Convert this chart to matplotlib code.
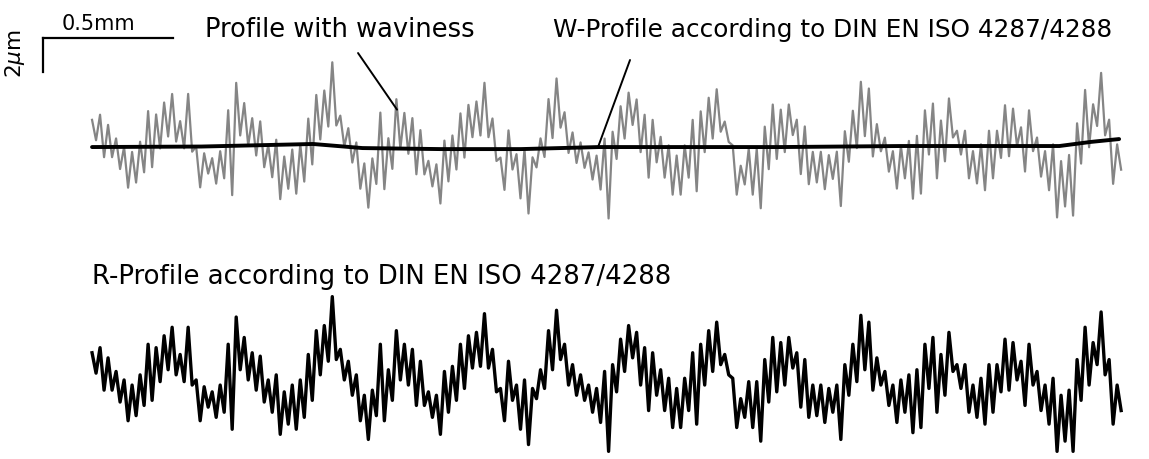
import numpy as np
import matplotlib
matplotlib.use('Agg')
import matplotlib.pyplot as plt

plt.rcParams['font.family'] = ['DejaVu Sans']

# Rauheit (R-Profil), in µm: Spitzen und Taeler abwechselnd, Abstand 0.0154 mm
peaks_um = [1.6, 1.9, 1.3, 0.5, 0.0, -0.3, 0.3, 2.1, 1.9, 2.6, 3.1, 1.5, 3.1, 0.0, -0.4, -0.7, -0.3, 2.1, 3.7, 2.5, 1.6, 1.4, 0.0, 0.3, -0.7,
            -0.3, 0.0, 1.5, 2.9, 3.2, 4.9, 1.8, 1.1, 0.3, -0.9, -0.6, 2.1, 0.6, 2.9, 2.1, 1.8, 1.1, -0.7, -0.9, 0.5, 0.8, 2.1, 2.6, 2.8, 3.9, 1.8,
            -0.5, 1.1, -0.3, 0.0, -0.5, 0.6, 2.9, 4.1, 2.1, 0.9, 0.3, -0.3, -0.5, 0.5, 0.9, 2.4, 3.2, 2.8, 1.9, 1.6, 0.6, 0.1, -0.5, 0.1, 1.6, 2.1,
            2.9, 3.4, 1.5, 0.1, -1.1, -0.1, -0.1, 1.2, 2.5, 2.2, 2.5, 1.6, 1.2, -0.3, -0.3, -0.5, -0.3, 0.9, 2.1, 3.8, 3.4, 1.3, 0.5, -0.3, 0.0, 0.3,
            0.6, 2.1, 2.5, 1.5, 2.8, 0.9, 0.9, -0.3, 0.1, 0.9, 0.9, 2.4, 2.2, 1.1, 2.1, 0.5, -0.3, 0.1, -0.9, -0.6, 1.2, 3.1, 2.2, 4.0, 1.2, -0.3]
valleys_um = [0.4, -0.6, -0.6, -1.3, -2.4, -2.1, -1.5, -1.2, -0.1, 0.6, 0.3, -0.1, -0.3, -2.4, -1.6, -2.2, -1.9, -2.9, 0.6, 0.0, -0.6, -1.3, -1.9, -3.2, -2.6,
              -2.9, -2.2, -1.2, 0.3, 1.1, 1.2, 0.0, -0.9, -2.4, -3.5, -2.1, -2.4, -1.2, 0.0, -0.3, -1.5, -1.5, -2.2, -3.2, -1.9, -1.2, -0.5, 0.7, 0.8, 0.7, -0.7,
              -2.4, -1.2, -2.9, -3.8, -1.1, -0.5, 0.6, 1.2, -0.3, -0.9, -1.2, -1.9, -2.5, -4.2, -0.7, 0.5, 1.3, -0.3, -1.8, -0.9, -1.8, -2.8, -2.8, -1.8, -2.6, -0.3,
              0.5, 0.9, 0.3, -2.8, -2.2, -2.8, -3.6, -1.3, -0.7, -0.3, 0.7, -1.6, -2.2, -2.1, -2.5, -1.9, -3.5, -0.9, -0.1, 0.6, -0.6, -0.3, -1.5, -2.5, -1.9, -3.1,
              -2.8, -0.5, -1.9, -0.9, 0.5, -0.5, -1.9, -2.2, -2.6, -1.9, -0.7, -0.6, 0.0, -1.5, -0.3, -1.8, -2.6, -4.2, -3.6, -4.2, -1.2, -0.3, 0.9, 0.3, -2.6, -1.8]
step_mm = 0.0154

# Welligkeit (W-Profil)
wave_x_mm = [0.0, 0.42, 0.85, 1.04, 1.34, 1.65, 1.95, 2.65, 3.11, 3.72, 3.84, 3.95]
wave_um = [0.0, 0.03, 0.18, -0.06, -0.12, -0.12, 0.0, 0.0, 0.06, 0.06, 0.3, 0.47]

scale_x_mm = 0.5
scale_y_um = 2

# Abstand zwischen oberem und unterem Profil
r_offset = -13.7

rough = np.empty(2 * len(peaks_um))
rough[0::2] = peaks_um
rough[1::2] = valleys_um
x = np.arange(len(rough)) * step_mm
waviness = np.interp(x, wave_x_mm, wave_um)
profile = rough + waviness

fig = plt.figure(figsize=(11.49, 4.59), dpi=100)
ax = fig.add_axes([0, 0, 1, 1])
ax.set_xlim(-0.354, 4.065)
ax.set_ylim(-18.35, 8.65)
ax.axis('off')

ax.plot(x, profile, color='#858585', lw=1.6)
ax.plot(wave_x_mm, wave_um, color='black', lw=2.8, solid_capstyle='round')
ax.plot(x, rough + r_offset, color='black', lw=2.4)

# Massstab
x0, y0 = -0.188, 6.41
ax.plot([x0, x0 + scale_x_mm], [y0, y0], color='black', lw=1.6)
ax.plot([x0, x0], [y0, y0 - scale_y_um], color='black', lw=1.6)
ax.text(x0 + 0.07, y0 + 0.5, '0.5mm', fontsize=15, ha='left', va='baseline')
ax.text(-0.295, y0 - 0.9, r'2$\mu$m', fontsize=15.5, rotation=90, ha='center', va='center')

# Beschriftungen
ax.text(0.435, 6.5, 'Profile with waviness', fontsize=18.5, ha='left', va='baseline')
ax.text(1.773, 6.5, 'W-Profile according to DIN EN ISO 4287/4288', fontsize=17.8, ha='left', va='baseline')
ax.text(0.0, -8.06, 'R-Profile according to DIN EN ISO 4287/4288', fontsize=18.7, ha='left', va='baseline')

ax.annotate('', xy=(1.173, 2.2), xytext=(1.023, 5.53),
            arrowprops=dict(arrowstyle='-', color='black', lw=1.4, shrinkA=0, shrinkB=0))
ax.annotate('', xy=(1.946, np.interp(1.946, wave_x_mm, wave_um)), xytext=(2.069, 5.12),
            arrowprops=dict(arrowstyle='-', color='black', lw=1.4, shrinkA=0, shrinkB=0))

fig.savefig('out.png', dpi=100, facecolor='white')
